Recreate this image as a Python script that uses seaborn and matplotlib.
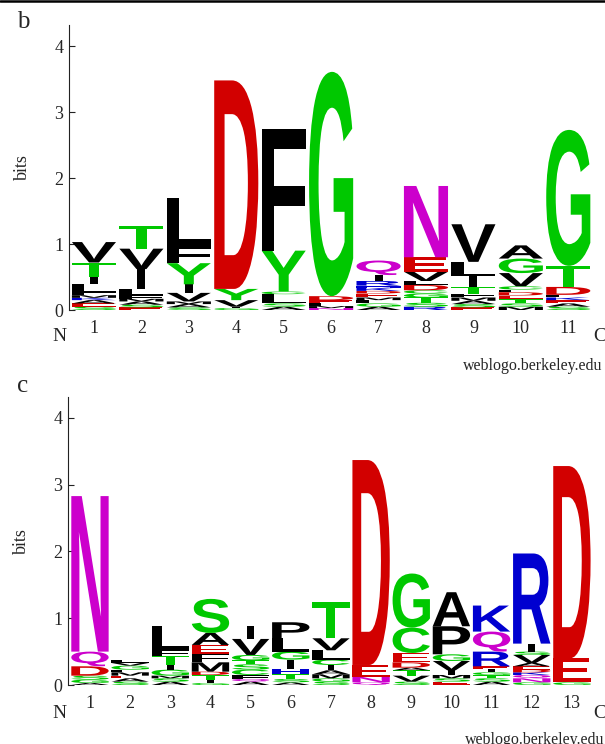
import matplotlib
matplotlib.use("Agg")
import matplotlib.pyplot as plt
import seaborn as sns
from matplotlib.textpath import TextPath
from matplotlib.patches import PathPatch
from matplotlib.font_manager import FontProperties
from matplotlib.transforms import Affine2D
from matplotlib.lines import Line2D

# Panel b: letters of each column from bottom to top, with their heights in bits
b_letters = ["SEAKMFLITV", "ESAMFLIVT", "SAMVIYFL", "GIVYD", "ASLCYF",
             "NMLEDG", "AGLMEDKHRIQ", "RSTGCDLVEN", "ESAMFTILV",
             "MSTEDLCVGA", "SAEKLDTG"]
b_heights = [
    [0.05, 0.05, 0.05, 0.035, 0.04, 0.045, 0.13, 0.10, 0.22, 0.31],
    [0.04, 0.04, 0.05, 0.04, 0.05, 0.10, 0.30, 0.31, 0.35],
    [0.04, 0.05, 0.04, 0.13, 0.13, 0.32, 0.25, 0.74],
    [0.03, 0.02, 0.10, 0.17, 3.16],
    [0.05, 0.05, 0.14, 0.04, 0.62, 1.84],
    [0.03, 0.03, 0.04, 0.05, 0.06, 3.40],
    [0.05, 0.05, 0.05, 0.04, 0.06, 0.04, 0.05, 0.03, 0.07, 0.09, 0.22],
    [0.05, 0.06, 0.08, 0.06, 0.05, 0.08, 0.06, 0.14, 0.22, 1.08],
    [0.04, 0.05, 0.05, 0.05, 0.06, 0.10, 0.16, 0.22, 0.57],
    [0.05, 0.05, 0.07, 0.05, 0.05, 0.04, 0.05, 0.20, 0.22, 0.20],
    [0.05, 0.05, 0.05, 0.04, 0.04, 0.12, 0.32, 2.06],
]

# Panel c
c_letters = ["AGSDQN", "SAEMFGVL", "ASMGITFL", "GITDMFEAS", "AQFCSTGVI",
             "ASTHIGLP", "SGMAICLVT", "QNED", "SVTADECG", "ESMIVGPA",
             "ASTGIERQK", "GNQKDEAVSIR", "GED"]
c_heights = [
    [0.03, 0.05, 0.06, 0.14, 0.22, 2.33],
    [0.05, 0.05, 0.04, 0.05, 0.04, 0.06, 0.04, 0.05],
    [0.05, 0.05, 0.04, 0.09, 0.07, 0.14, 0.08, 0.36],
    [0.03, 0.04, 0.08, 0.05, 0.14, 0.13, 0.13, 0.18, 0.51],
    [0.05, 0.04, 0.06, 0.08, 0.08, 0.06, 0.08, 0.24, 0.20],
    [0.04, 0.05, 0.07, 0.08, 0.14, 0.12, 0.20, 0.24],
    [0.05, 0.05, 0.06, 0.06, 0.08, 0.08, 0.14, 0.18, 0.54],
    [0.04, 0.08, 0.18, 3.07],
    [0.05, 0.09, 0.08, 0.04, 0.08, 0.14, 0.38, 0.81],
    [0.05, 0.05, 0.05, 0.07, 0.14, 0.10, 0.42, 0.51],
    [0.05, 0.05, 0.05, 0.04, 0.05, 0.04, 0.22, 0.30, 0.39],
    [0.04, 0.06, 0.05, 0.04, 0.04, 0.05, 0.05, 0.12, 0.05, 0.12, 1.35],
    [0.04, 0.36, 2.88],
]

# weblogo chemistry colours
colors = {}
for aa in "GSTYC":
    colors[aa] = "#00c800"
for aa in "KRH":
    colors[aa] = "#0000d0"
for aa in "DE":
    colors[aa] = "#d20000"
for aa in "NQ":
    colors[aa] = "#cc00cc"
for aa in "AVLIPWFM":
    colors[aa] = "#000000"

letter_font = FontProperties(family="Liberation Sans", weight="bold")


def draw_letter(ax, letter, x, y, w, h):
    tp = TextPath((0, 0), letter, size=1, prop=letter_font)
    bb = tp.get_extents()
    if letter == "I":
        w = w * 0.18
    t = (Affine2D().translate(-bb.x0, -bb.y0)
         .scale(w / bb.width, h / bb.height)
         .translate(x - w / 2, y))
    ax.add_patch(PathPatch(t.transform_path(tp), fc=colors[letter],
                           ec="none", lw=0))


def plot_logo(ax, letters, heights, xlim):
    positions = list(range(1, len(letters) + 1))
    for pos, col_letters, col_heights in zip(positions, letters, heights):
        base = 0.0
        for aa, h in zip(col_letters, col_heights):
            draw_letter(ax, aa, pos, base, 0.93, h)
            base += h
    ax.set_xlim(*xlim)
    ax.set_ylim(0, 4.32)
    ax.set_xticks(positions)
    ax.set_xticklabels([str(p) for p in positions])
    ax.set_yticks([0, 1, 2, 3, 4])
    ax.tick_params(axis="x", length=0, pad=7, labelsize=13)
    ax.tick_params(axis="y", left=True, direction="in", length=4,
                   width=0.8, pad=4, labelsize=13, color="#222222")
    sns.despine(ax=ax, bottom=True)
    ax.spines["left"].set_color("#222222")
    ax.spines["left"].set_linewidth(0.8)
    ax.set_ylabel("bits", fontsize=13)
    ax.yaxis.set_label_coords(-0.072, 0.5)


sns.set_theme(style="white")
plt.rcParams["font.family"] = ["Liberation Serif", "DejaVu Serif"]

fig = plt.figure(figsize=(6.05, 7.44), dpi=100)

ax_b = fig.add_axes([0.1140, 0.5833, 0.8645, 0.3831])
plot_logo(ax_b, b_letters, b_heights, (0.473, 11.5))

ax_c = fig.add_axes([0.1124, 0.0793, 0.8661, 0.3876])
plot_logo(ax_c, c_letters, c_heights, (0.453, 13.5))

# panel labels and end markers
fig.text(23 / 605, 1 - 22 / 744, "b", fontsize=18, ha="center", va="center")
fig.text(23 / 605, 1 - 386 / 744, "c", fontsize=18, ha="center", va="center")
for y in (337, 713):
    fig.text(59 / 605, 1 - y / 744, "N", fontsize=14, ha="center", va="center")
    fig.text(600 / 605, 1 - y / 744, "C", fontsize=14, ha="center", va="center")
fig.text(463 / 605, 1 - 370 / 744, "weblogo.berkeley.edu", fontsize=11.5,
         ha="left", va="baseline")
fig.text(465 / 605, 1 - 744 / 744, "weblogo.berkeley.edu", fontsize=11.5,
         ha="left", va="baseline")

# frame line at the top edge
fig.add_artist(Line2D([0, 1], [0.9987, 0.9987], transform=fig.transFigure,
                      color="black", lw=1.8))

fig.savefig("out.png", dpi=100)
